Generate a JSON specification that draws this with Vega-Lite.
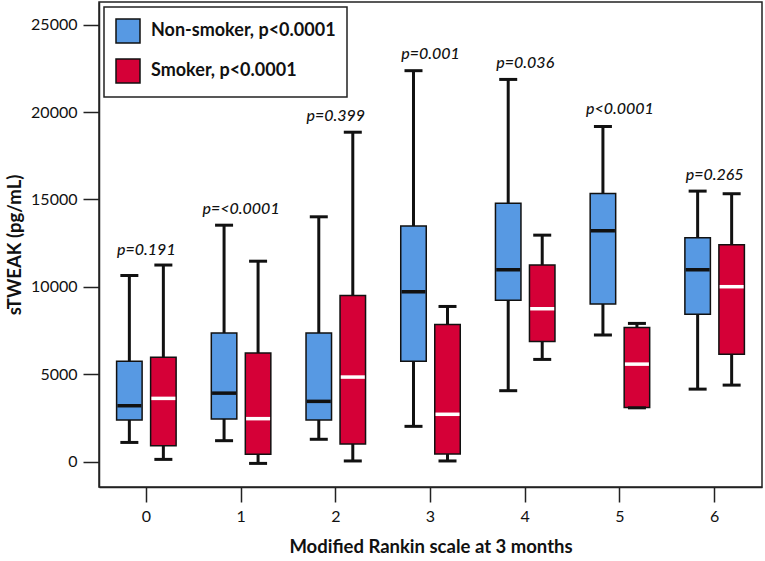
{
  "$schema": "https://vega.github.io/schema/vega-lite/v6.json",
  "width": 663,
  "height": 485,
  "autosize": {"type": "none"},
  "padding": {"left": 99, "top": 2, "right": 3, "bottom": 74},
  "background": "white",
  "config": {
    "font": "Lato",
    "view": {"stroke": "#222222", "strokeWidth": 1.5},
    "legend": {"strokeWidth": 1.5},
    "tick": {"opacity": 1},
    "axis": {
      "grid": false,
      "domainColor": "#222222",
      "domainWidth": 1.5,
      "tickColor": "#222222",
      "tickWidth": 1.5,
      "labelFont": "Lato",
      "labelFontSize": 16,
      "labelColor": "#111111",
      "titleFont": "Lato",
      "titleFontSize": 18.5,
      "titleFontWeight": "bold",
      "titleColor": "#111111"
    }
  },
  "datasets": {
    "boxes": [
      {"mrs": "0", "group": "Non-smoker", "min": 1100, "q1": 2380, "median": 3200, "q3": 5740, "max": 10650},
      {"mrs": "0", "group": "Smoker", "min": 130, "q1": 915, "median": 3620, "q3": 5970, "max": 11250},
      {"mrs": "1", "group": "Non-smoker", "min": 1200, "q1": 2440, "median": 3920, "q3": 7360, "max": 13530},
      {"mrs": "1", "group": "Smoker", "min": -100, "q1": 420, "median": 2460, "q3": 6210, "max": 11470},
      {"mrs": "2", "group": "Non-smoker", "min": 1280, "q1": 2380, "median": 3450, "q3": 7360, "max": 14010},
      {"mrs": "2", "group": "Smoker", "min": 40, "q1": 1010, "median": 4840, "q3": 9500, "max": 18850},
      {"mrs": "3", "group": "Non-smoker", "min": 2020, "q1": 5740, "median": 9720, "q3": 13480, "max": 22370},
      {"mrs": "3", "group": "Smoker", "min": 40, "q1": 435, "median": 2710, "q3": 7850, "max": 8880},
      {"mrs": "4", "group": "Non-smoker", "min": 4060, "q1": 9240, "median": 10980, "q3": 14790, "max": 21870},
      {"mrs": "4", "group": "Smoker", "min": 5850, "q1": 6880, "median": 8750, "q3": 11250, "max": 12960},
      {"mrs": "5", "group": "Non-smoker", "min": 7240, "q1": 9020, "median": 13210, "q3": 15350, "max": 19180},
      {"mrs": "5", "group": "Smoker", "min": 3080, "q1": 3100, "median": 5580, "q3": 7680, "max": 7910},
      {"mrs": "6", "group": "Non-smoker", "min": 4150, "q1": 8440, "median": 10980, "q3": 12810, "max": 15480},
      {"mrs": "6", "group": "Smoker", "min": 4380, "q1": 6140, "median": 10010, "q3": 12410, "max": 15330}
    ],
    "pvals": [
      {"mrs": "0", "y": 12100, "label": "p=0.191"},
      {"mrs": "1", "y": 14430, "label": "p=<0.0001"},
      {"mrs": "2", "y": 19770, "label": "p=0.399"},
      {"mrs": "3", "y": 23300, "label": "p=0.001"},
      {"mrs": "4", "y": 22820, "label": "p=0.036"},
      {"mrs": "5", "y": 20150, "label": "p<0.0001"},
      {"mrs": "6", "y": 16380, "label": "p=0.265"}
    ]
  },
  "encoding": {
    "x": {
      "field": "mrs",
      "type": "ordinal",
      "scale": {"paddingInner": 0, "paddingOuter": 0},
      "axis": {
        "title": "Modified Rankin scale at 3 months",
        "labelAngle": 0,
        "tickSize": 15,
        "labelPadding": 6,
        "titlePadding": 13
      }
    }
  },
  "layer": [
    {
      "data": {"name": "boxes"},
      "mark": {"type": "rule", "strokeWidth": 3, "color": "#111111", "opacity": 1},
      "encoding": {
        "xOffset": {"field": "group", "type": "nominal", "scale": {"domain": ["Non-smoker", "Smoker"], "paddingInner": 0.25, "paddingOuter": 0.5175}},
        "y": {
          "field": "min",
          "type": "quantitative",
          "scale": {"domain": [-1450, 26300], "nice": false, "zero": false},
          "axis": {
            "title": "sTWEAK (pg/mL)",
            "values": [0, 5000, 10000, 15000, 20000, 25000],
            "format": "d",
            "tickSize": 16,
            "labelPadding": 6,
            "titlePadding": 6
          }
        },
        "y2": {"field": "max"}
      }
    },
    {
      "data": {"name": "boxes"},
      "mark": {"type": "bar", "stroke": "#111111", "strokeWidth": 1.5, "opacity": 1},
      "encoding": {
        "xOffset": {"field": "group", "type": "nominal"},
        "y": {"field": "q1", "type": "quantitative"},
        "y2": {"field": "q3"},
        "color": {
          "field": "group",
          "type": "nominal",
          "scale": {"domain": ["Non-smoker", "Smoker"], "range": ["#5799E3", "#D50037"]},
          "legend": {
            "title": null,
            "orient": "top-left",
            "offset": 5,
            "padding": 11,
            "strokeColor": "#222222",
            "fillColor": "white",
            "symbolType": "square",
            "symbolSize": 576,
            "symbolStrokeColor": "#111111",
            "symbolStrokeWidth": 1.5,
            "symbolOpacity": 1,
            "rowPadding": 10,
            "labelOffset": 10,
            "labelFont": "Lato",
            "labelFontSize": 18,
            "labelFontWeight": "bold",
            "labelColor": "#111111",
            "labelLimit": 300,
            "labelExpr": "datum.label + ', p<0.0001'"
          }
        }
      }
    },
    {
      "data": {"name": "boxes"},
      "transform": [{"filter": "datum.group === 'Non-smoker'"}],
      "mark": {"type": "tick", "orient": "horizontal", "size": 24, "thickness": 3.5, "color": "#111111", "opacity": 1},
      "encoding": {
        "xOffset": {"field": "group", "type": "nominal"},
        "y": {"field": "median", "type": "quantitative"}
      }
    },
    {
      "data": {"name": "boxes"},
      "transform": [{"filter": "datum.group === 'Smoker'"}],
      "mark": {"type": "tick", "orient": "horizontal", "size": 24, "thickness": 3.5, "color": "white", "opacity": 1},
      "encoding": {
        "xOffset": {"field": "group", "type": "nominal"},
        "y": {"field": "median", "type": "quantitative"}
      }
    },
    {
      "data": {"name": "boxes"},
      "mark": {"type": "tick", "orient": "horizontal", "size": 18, "thickness": 3, "color": "#111111", "opacity": 1},
      "encoding": {
        "xOffset": {"field": "group", "type": "nominal"},
        "y": {"field": "max", "type": "quantitative"}
      }
    },
    {
      "data": {"name": "boxes"},
      "mark": {"type": "tick", "orient": "horizontal", "size": 18, "thickness": 3, "color": "#111111", "opacity": 1},
      "encoding": {
        "xOffset": {"field": "group", "type": "nominal"},
        "y": {"field": "min", "type": "quantitative"}
      }
    },
    {
      "data": {"name": "pvals"},
      "mark": {"type": "text", "font": "Lato", "fontSize": 16, "fontStyle": "italic", "fontWeight": 500, "color": "#111111", "baseline": "middle", "align": "center"},
      "encoding": {
        "y": {"field": "y", "type": "quantitative"},
        "text": {"field": "label"}
      }
    }
  ]
}
